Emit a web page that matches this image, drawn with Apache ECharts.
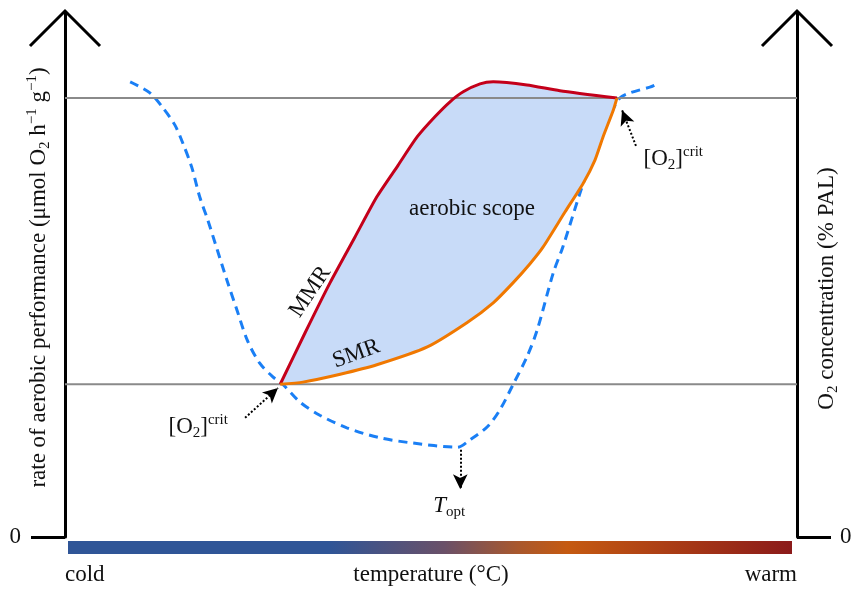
<!DOCTYPE html>
<html>
<head>
<meta charset="utf-8">
<script src="https://cdn.jsdelivr.net/npm/echarts@6/dist/echarts.min.js"></script>
<style>
  html, body { margin: 0; padding: 0; background: #fff; }
  #chart { width: 853px; height: 589px; }
</style>
</head>
<body>
<div id="chart"></div>
<script>
(function() {
  var font = '"Liberation Serif", "DejaVu Serif", serif';
  var ink = '#111';

  // conceptual units: temperature 0..100 (cold -> warm), rate 0..100
  var critLevels = [29.1, 83.6];

  // O2 concentration curve (blue dashed)
  var o2Curve = [[8.9, 86.7], [11.6, 84.6], [13.4, 81.7], [15.0, 78.5], [16.1, 75.0], [17.3, 70.5],
    [18.4, 64.8], [19.5, 60.4], [20.8, 54.7], [22.1, 49.0], [23.5, 43.2], [24.9, 37.5], [26.6, 33.1],
    [28.4, 30.5], [29.8, 29.0], [32.1, 25.7], [34.8, 23.2], [38.5, 20.8], [43.0, 18.9], [47.5, 17.9],
    [53.6, 17.1], [55.3, 18.5], [57.7, 21.0], [59.4, 24.2], [61.2, 29.0], [63.1, 34.3], [64.5, 39.4],
    [66.7, 50.3], [68.0, 55.2], [70.4, 65.7], [72.4, 73.7], [74.5, 80.4], [75.8, 83.6], [77.2, 84.6],
    [79.9, 85.7], [80.6, 86.1]];

  // maximum metabolic rate
  var mmr = [[29.4, 29.1], [32.8, 38.9], [36.2, 48.4], [39.6, 57.1], [42.6, 64.8], [45.5, 70.8],
    [48.1, 76.2], [50.5, 80.0], [52.6, 82.9], [54.4, 84.8], [56.7, 86.3], [58.5, 86.7], [63.1, 86.1],
    [67.6, 85.0], [75.4, 83.6]];

  // standard metabolic rate
  var smr = [[29.4, 29.1], [32.5, 29.5], [37.6, 31.0], [42.6, 32.8], [49.5, 36.2], [54.9, 40.8],
    [58.5, 44.6], [61.2, 48.4], [63.5, 52.0], [65.3, 55.2], [68.3, 61.9], [70.8, 67.4], [72.4, 71.8],
    [73.5, 76.2], [74.9, 81.3], [75.4, 83.6]];

  // annotation arrows [from, to]
  var arrows = [
    [[24.6, 22.7], [29.1, 28.4]],
    [[78.0, 74.5], [76.1, 81.3]],
    [[54.0, 16.6], [54.0, 9.1]]
  ];

  // text notes: [x, y, text, rotate]
  var notes = [
    [55.6, 62.5, '{n|aerobic scope}', 0],
    [33.5, 46.7, '{n|MMR}', 56],
    [39.8, 34.9, '{n|SMR}', 20],
    [18.2, 21.0, '{n|[O}{sub|2}{n|]}{sup|crit}', 0],
    [83.1, 72.0, '{n|[O}{sub|2}{n|]}{sup|crit}', 0],
    [52.5, 5.9, '{i|T}{sub|opt}', 0]
  ];

  var rich = {
    n: { fontFamily: font, fontSize: 23, color: ink, lineHeight: 28 },
    i: { fontFamily: font, fontSize: 23, fontStyle: 'italic', color: ink, lineHeight: 28 },
    sub: { fontFamily: font, fontSize: 15, color: ink, lineHeight: 15, verticalAlign: 'bottom' },
    sup: { fontFamily: font, fontSize: 15, color: ink, lineHeight: 12, verticalAlign: 'top' }
  };

  var chart = echarts.init(document.getElementById('chart'), null, { renderer: 'canvas' });

  function yAxisDef(pos, name, gap, margin, pad) {
    return {
      type: 'value', min: 0, max: 100, position: pos,
      axisLine: { show: true, onZero: false, lineStyle: { color: '#000', width: 3 } },
      axisTick: { show: true, customValues: [0], length: 34, lineStyle: { color: '#000', width: 3 } },
      axisLabel: { customValues: [0], margin: margin, color: ink, fontFamily: font, fontSize: 23 },
      splitLine: { show: false },
      name: name, nameLocation: 'middle', nameRotate: 90, nameGap: gap, nameMoveOverlap: false,
      nameTextStyle: { fontFamily: font, fontSize: 23, color: ink, lineHeight: 28, rich: rich, padding: pad }
    };
  }

  chart.setOption({
    animation: false,
    grid: { left: 65, right: 56, top: 12, bottom: 52, outerBoundsMode: 'none' },
    xAxis: {
      type: 'value', min: 0, max: 100,
      axisLine: { show: false }, axisTick: { show: false }, splitLine: { show: false },
      axisLabel: {
        customValues: [0, 100], margin: 26, color: ink, fontFamily: font, fontSize: 23,
        alignMinLabel: 'left', alignMaxLabel: 'right',
        formatter: function(v) { return v === 0 ? 'cold' : 'warm'; }
      },
      name: 'temperature (°C)', nameLocation: 'middle', nameGap: 26, nameMoveOverlap: false,
      nameTextStyle: { fontFamily: font, fontSize: 23, color: ink, verticalAlign: 'top' }
    },
    yAxis: [
      yAxisDef('left', '{n|rate of aerobic performance (μmol O}{sub|2}{n| h}{sup|−1}{n| g}{sup|−1}{n|)}', 12, 44, [0, 6, 0, 0]),
      yAxisDef('right', '{n|O}{sub|2}{n| concentration (% PAL)}', 16, 43, [0, 28, 0, 0])
    ],
    series: [
      {
        type: 'line', z: 1, data: o2Curve, smooth: 0.3, symbol: 'none',
        lineStyle: { color: '#1a7ff5', width: 3, type: [9, 6] },
        markLine: {
          silent: true, symbol: ['none', 'arrow'], symbolSize: [11, 15],
          lineStyle: { color: '#000', width: 2, type: [2, 2] },
          label: { show: false },
          data: arrows.map(function(a) { return [{ coord: a[0] }, { coord: a[1] }]; })
        }
      },
      {
        type: 'custom', z: 2, data: [[0, 0]],
        renderItem: function(params, api) {
          var pts = mmr.map(function(p) { return api.coord(p); })
            .concat(smr.slice().reverse().map(function(p) { return api.coord(p); }));
          return { type: 'polygon', shape: { points: pts }, style: { fill: '#c8dbf8' } };
        }
      }
    ].concat(critLevels.map(function(v) {
      return {
        type: 'line', z: 3, symbol: 'none', data: [[0, v], [100, v]],
        lineStyle: { color: '#8a8a8a', width: 2 }
      };
    })).concat([
      { type: 'line', z: 4, data: mmr, smooth: 0.2, symbol: 'none', lineStyle: { color: '#c4001a', width: 3 } },
      { type: 'line', z: 4, data: smr, smooth: 0.2, symbol: 'none', lineStyle: { color: '#f07800', width: 3 } },
      {
        type: 'scatter', z: 5, symbolSize: 1, itemStyle: { color: '#fff', opacity: 0 },
        data: notes.map(function(n) {
          return {
            value: [n[0], n[1]],
            label: {
              show: true, position: 'inside', formatter: n[2], rotate: n[3], rich: rich,
              color: ink, opacity: 1, textBorderWidth: 0
            }
          };
        })
      }
    ])
  });

  // decorations: open arrowheads on both axes and temperature colour bar
  var p0 = chart.convertToPixel({ gridIndex: 0 }, [0, 0]);
  var p1 = chart.convertToPixel({ gridIndex: 0 }, [100, 100]);
  function chevron(x, y) {
    return {
      type: 'polyline', shape: { points: [[x - 35, y + 34], [x, y - 1], [x + 35, y + 34]] },
      style: { stroke: '#000', lineWidth: 3, fill: null }
    };
  }
  chart.setOption({
    graphic: [
      chevron(p0[0], p1[1]),
      chevron(p1[0], p1[1]),
      {
        type: 'rect', shape: { x: p0[0] + 3, y: p0[1] + 4, width: p1[0] - p0[0] - 8, height: 13 },
        style: {
          fill: new echarts.graphic.LinearGradient(0, 0, 1, 0, [
            { offset: 0, color: '#2f5597' },
            { offset: 0.36, color: '#2f5597' },
            { offset: 0.52, color: '#6a5068' },
            { offset: 0.62, color: '#a8582e' },
            { offset: 0.69, color: '#c55a11' },
            { offset: 1, color: '#8b1a1a' }
          ])
        }
      }
    ]
  });
  window.addEventListener('resize', function() { chart.resize(); });
})();
</script>
</body>
</html>
